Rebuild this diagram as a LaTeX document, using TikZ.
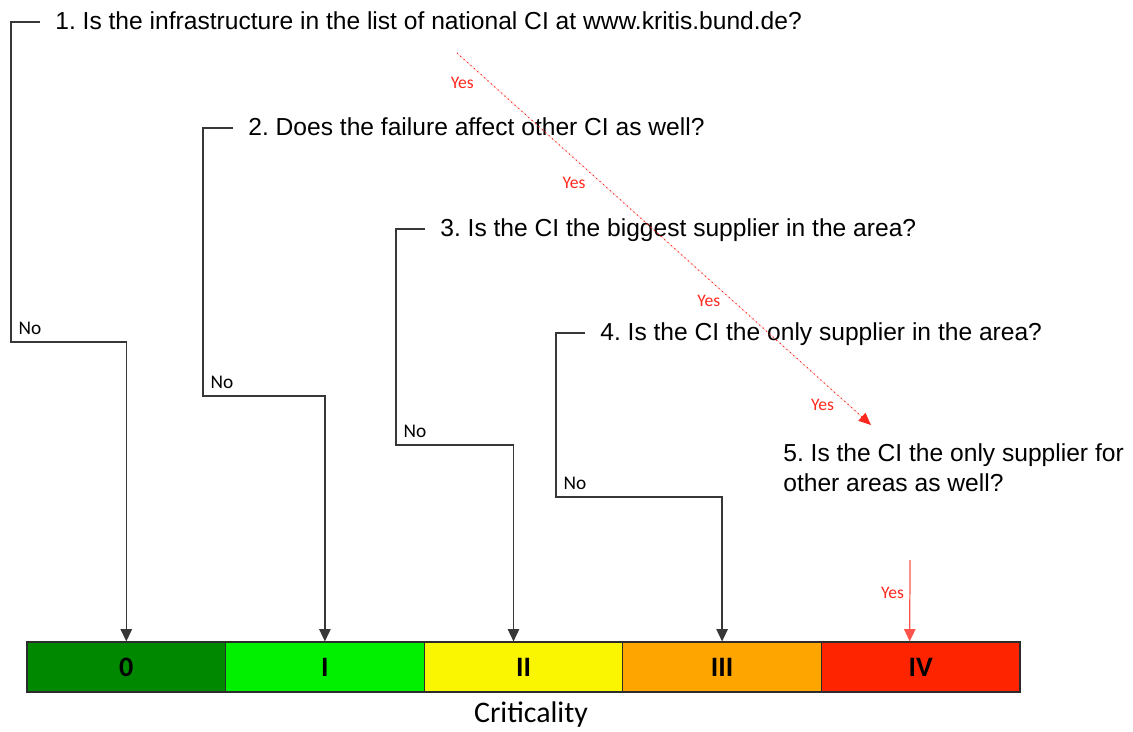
\documentclass[tikz,border=0pt]{standalone}
\usepackage{fontspec}
\setmainfont{Liberation Sans}
\newfontfamily\calibri{Carlito}
\frenchspacing
\usetikzlibrary{arrows.meta,positioning,calc}
\definecolor{ink}{RGB}{55,55,55}
\definecolor{alert}{RGB}{255,40,30}
\definecolor{critzero}{RGB}{0,136,0}
\definecolor{critone}{RGB}{0,240,0}
\definecolor{crittwo}{RGB}{250,245,0}
\definecolor{critthree}{RGB}{255,165,0}
\definecolor{critfour}{RGB}{255,36,0}
\tikzset{
  >={Triangle[length=7pt,width=6.5pt]},
  question/.style={font=\fontsize{14}{17}\selectfont,anchor=west,inner xsep=0.3cm,
    inner ysep=0pt,text height=0.8em,text depth=0em,align=left},
  nolink/.style={->,draw=ink,line width=0.7pt},
  yeslink/.style={-{Triangle[length=7pt,width=6pt,sep=0pt]},draw=alert,fill=alert,line width=0.6pt,dotted},
  yesdown/.style={->,draw=alert!80,line width=0.7pt},
  nolabel/.style={above right,inner sep=4pt,font=\calibri\fontsize{11}{13}\selectfont},
  yeslabel/.style={text=alert,inner sep=1pt,font=\calibri\fontsize{10}{12}\selectfont},
  critbox/.style={draw=ink!80!black,line width=0.7pt,fill=#1,minimum width=3.972cm,
    minimum height=1cm,inner sep=0pt,font=\calibri\bfseries\fontsize{16}{18}\selectfont},
}

\begin{document}
\begin{tikzpicture}[x=0.02cm,y=-0.02cm]
  \useasboundingbox (0,0) rectangle (1133,731);
  % questions
  \node[question] (q1) at (40,22) {1. Is the infrastructure in the list of national CI at www.kritis.bund.de?};
  \node[question] (q2) at (233,128) {2. Does the failure affect other CI as well?};
  \node[question] (q3) at (425,229) {3. Is the CI the biggest supplier in the area?};
  \node[question] (q4) at (585,333) {4. Is the CI the only supplier in the area?};
  \node[question,anchor=north west] (q5) at (768,477) {5. Is the CI the only supplier for\\other areas as well?};
  % criticality scale
  \foreach \t/\c [count=\i from 0] in {0/critzero,I/critone,II/crittwo,III/critthree,IV/critfour}{
    \node[critbox=\c] (c\i) at ({126.3+\i*198.6},667) {\t};
  }
  \node[font=\calibri\fontsize{17}{20}\selectfont] (crit) at (531,715) {Criticality};
  % No branches
  \coordinate (n1) at (11,342);
  \coordinate (n2) at (203,396);
  \coordinate (n3) at (396,445);
  \coordinate (n4) at (556,497);
  \draw[nolink] (q1.west) -| (n1) node[nolabel]{No} -| (c0.north);
  \draw[nolink] (q2.west) -| (n2) node[nolabel]{No} -| (c1.north);
  \draw[nolink] (q3.west) -| (n3) node[nolabel]{No} -| ([xshift=-0.2cm]c2.north);
  \draw[nolink] (q4.west) -| (n4) node[nolabel]{No} -| (c3.north);
  % Yes path
  \coordinate (ystart) at (457,53);
  \coordinate (yend) at (871,425);
  \draw[yeslink] (ystart) -- (yend)
    node[yeslabel,pos=0.08,left=8pt]{Yes}
    node[yeslabel,pos=0.35,left=8pt]{Yes}
    node[yeslabel,pos=0.667,left=6pt]{Yes}
    node[yeslabel,pos=0.946,left=7pt]{Yes};
  \coordinate (yfinal) at (910,560);
  \draw[yesdown] (yfinal) -- ([xshift=-0.22cm]c4.north) node[yeslabel,pos=0.4,left=2pt]{Yes};
\end{tikzpicture}
\end{document}
